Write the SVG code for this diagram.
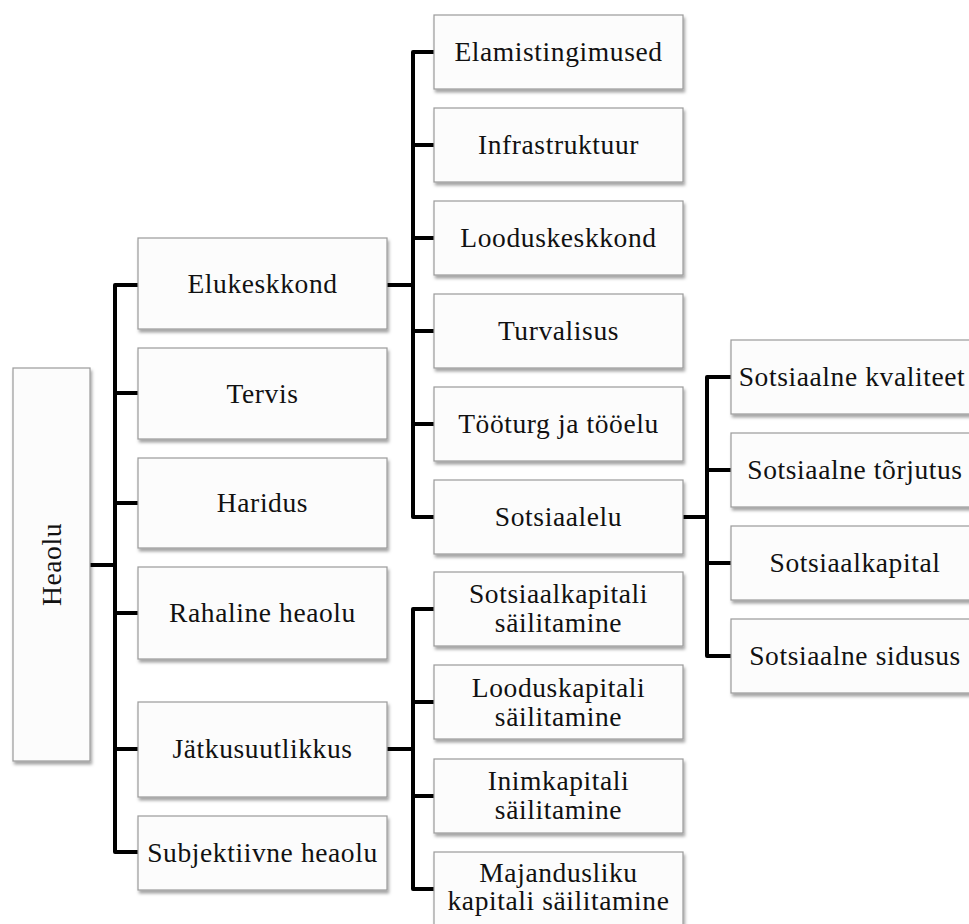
<svg xmlns="http://www.w3.org/2000/svg" width="969" height="924" viewBox="0 0 969 924">
<defs>
<filter id="sh" x="-10%" y="-10%" width="130%" height="140%">
<feDropShadow dx="1.5" dy="3" stdDeviation="1.8" flood-color="#000" flood-opacity="0.35"/>
</filter>
</defs>
<style>
.box{fill:#fcfcfc;stroke:#9a9a9a;stroke-width:1.2;filter:url(#sh)}
.t{font-family:'Liberation Serif','Times New Roman',serif;font-size:27.5px;letter-spacing:0.6px;fill:#111;text-anchor:middle}
.c{fill:none;stroke:#000;stroke-width:4;stroke-linejoin:round}
</style>
<rect width="969" height="924" fill="#fff"/>
<g id="connectors">
<path class="c" d="M90,565 H115 M138,285 H115 V852 H138 M115,393 H138 M115,503 H138 M115,613 H138 M115,749 H138"/>
<path class="c" d="M387,285 H413 M434,52 H413 V517 H434 M413,145 H434 M413,238 H434 M413,331 H434 M413,424 H434"/>
<path class="c" d="M387,749 H413 M434,609 H413 V889 H434 M413,702 H434 M413,796 H434"/>
<path class="c" d="M683,517 H707 M731,377 H707 V656 H731 M707,470 H731 M707,563 H731"/>
</g>
<g id="n-heaolu"><rect class="box" x="13" y="368" width="77" height="393"/><text class="t" transform="translate(61,564.5) rotate(-90)" x="0" y="0">Heaolu</text></g>
<g id="n-elukeskkond"><rect class="box" x="138" y="238" width="249" height="91"/><text class="t" x="262.5" y="293">Elukeskkond</text></g>
<g id="n-tervis"><rect class="box" x="138" y="348" width="249" height="91"/><text class="t" x="262.5" y="403">Tervis</text></g>
<g id="n-haridus"><rect class="box" x="138" y="458" width="249" height="90"/><text class="t" x="262.5" y="512">Haridus</text></g>
<g id="n-rahaline"><rect class="box" x="138" y="567" width="249" height="92"/><text class="t" x="262.5" y="622">Rahaline heaolu</text></g>
<g id="n-jatkusuutlikkus"><rect class="box" x="138" y="702" width="249" height="95"/><text class="t" x="262.5" y="758">Jätkusuutlikkus</text></g>
<g id="n-subjektiivne"><rect class="box" x="138" y="816" width="249" height="74"/><text class="t" x="262.5" y="862">Subjektiivne heaolu</text></g>
<g id="n-elamistingimused"><rect class="box" x="434" y="15" width="249" height="74"/><text class="t" x="558.5" y="61">Elamistingimused</text></g>
<g id="n-infrastruktuur"><rect class="box" x="434" y="108" width="249" height="74"/><text class="t" x="558.5" y="154">Infrastruktuur</text></g>
<g id="n-looduskeskkond"><rect class="box" x="434" y="201" width="249" height="74"/><text class="t" x="558.5" y="247">Looduskeskkond</text></g>
<g id="n-turvalisus"><rect class="box" x="434" y="294" width="249" height="74"/><text class="t" x="558.5" y="340">Turvalisus</text></g>
<g id="n-tooturg"><rect class="box" x="434" y="387" width="249" height="74"/><text class="t" x="558.5" y="433">Tööturg ja tööelu</text></g>
<g id="n-sotsiaalelu"><rect class="box" x="434" y="480" width="249" height="74"/><text class="t" x="558.5" y="526">Sotsiaalelu</text></g>
<g id="n-sotsiaalkapitali"><rect class="box" x="434" y="572" width="249" height="74"/><text class="t" x="558.5" y="603">Sotsiaalkapitali</text><text class="t" x="558.5" y="632">säilitamine</text></g>
<g id="n-looduskapitali"><rect class="box" x="434" y="665" width="249" height="74"/><text class="t" x="558.5" y="697">Looduskapitali</text><text class="t" x="558.5" y="726">säilitamine</text></g>
<g id="n-inimkapitali"><rect class="box" x="434" y="759" width="249" height="74"/><text class="t" x="558.5" y="790">Inimkapitali</text><text class="t" x="558.5" y="819">säilitamine</text></g>
<g id="n-majandusliku"><rect class="box" x="434" y="852" width="249" height="74"/><text class="t" x="558.5" y="882">Majandusliku</text><text class="t" x="558.5" y="910">kapitali säilitamine</text></g>
<g id="n-kvaliteet"><rect class="box" x="731" y="340" width="249" height="74"/><text class="t" x="852" y="386">Sotsiaalne kvaliteet</text></g>
<g id="n-torjutus"><rect class="box" x="731" y="433" width="249" height="74"/><text class="t" x="855" y="479">Sotsiaalne tõrjutus</text></g>
<g id="n-sotsiaalkapital"><rect class="box" x="731" y="526" width="249" height="74"/><text class="t" x="855" y="572">Sotsiaalkapital</text></g>
<g id="n-sidusus"><rect class="box" x="731" y="619" width="249" height="74"/><text class="t" x="855" y="665">Sotsiaalne sidusus</text></g>
</svg>
